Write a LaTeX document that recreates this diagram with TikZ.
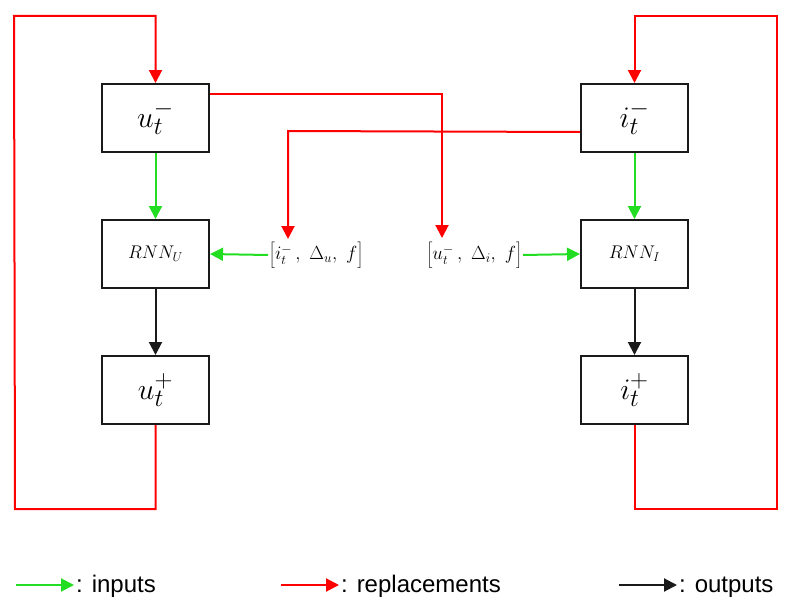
\documentclass[tikz,border=0pt]{standalone}
\usepackage{graphicx}
\usepackage{fontspec}
\newfontfamily\legfont{Liberation Sans}
\usetikzlibrary{arrows.meta}
\definecolor{cgreen}{RGB}{34,221,34}
\definecolor{cred}{RGB}{255,0,0}
\definecolor{cblack}{RGB}{26,26,26}
\newcommand{\boxmathA}[1]{\scalebox{1.2}{$#1$}}
\newcommand{\boxmathR}[1]{\scalebox{1.06}{$#1$}}
\newcommand{\boxmathL}[1]{\scalebox{1.1}{$#1$}}
\newcommand{\brkstrut}{\rule[-8pt]{0pt}{25pt}}
\tikzset{
  blk/.style={draw=cblack, line width=2pt, minimum width=107pt, minimum height=68pt, inner sep=0pt},
  conn/.style={line width=2pt, -{Triangle[length=13pt,width=13pt]}},
  gconn/.style={conn, color=cgreen},
  rconn/.style={conn, color=cred},
  kconn/.style={conn, color=cblack},
  bigmath/.style={font=\fontsize{24.88}{30}\selectfont},
  rnnmath/.style={font=\fontsize{17.28}{20}\selectfont},
  lblmath/.style={font=\fontsize{17.28}{20}\selectfont, inner sep=1pt},
  legtxt/.style={font=\legfont\fontsize{24}{28}\selectfont, anchor=base west, inner sep=0pt}
}
\begin{document}
\begin{tikzpicture}[x=1pt,y=-1pt]
\useasboundingbox (0,0) rectangle (797,610);
% boxes
\node[blk, bigmath] (um) at (155.5,118) {\boxmathA{u_t^-}};
\node[blk, rnnmath] (rnnu) at (155.5,254) {\boxmathR{RNN_U}};
\node[blk, bigmath] (up) at (155.5,390) {\boxmathA{u_t^+}};
\node[blk, bigmath] (im) at (634.5,118) {\boxmathA{i_t^-}};
\node[blk, rnnmath] (rnni) at (634.5,254) {\boxmathR{RNN_I}};
\node[blk, bigmath] (ip) at (634.5,390) {\boxmathA{i_t^+}};
% labels
\node[lblmath, anchor=west] (lu) at (268,255) {\boxmathL{\left[\brkstrut i_t^-\,,\ \Delta_u,\ f\right]}};
\node[lblmath, anchor=east] (li) at (523,255) {\boxmathL{\left[\brkstrut u_t^-\,,\ \Delta_i,\ f\right]}};
% green inputs
\draw[gconn] (um) -- (rnnu);
\draw[gconn] (im) -- (rnni);
\draw[gconn] (lu.west) -- (rnnu.east);
\draw[gconn] (li.east) -- (rnni.west);
% black outputs
\draw[kconn] (rnnu) -- (up);
\draw[kconn] (rnni) -- (ip);
% red loops
\draw[rconn] (up.south) -- (155.5,509) -- (15,509) -- (14,16) -- (155.5,16) -- (um.north);
\draw[rconn] (ip.south) -- (634.5,509) -- (777,509) -- (777,16) -- (634.5,16) -- (im.north);
% red cross replacements
\coordinate (ua) at (um.east |- 0,94);
\coordinate (ia) at (im.west |- 0,132);
\draw[rconn] (ua) -- (442,94) -- (442,238);
\draw[rconn] (ia) -- (288,131) -- (288,239);
% legend
\coordinate (g1) at (16,585); \coordinate (g2) at (74,585);
\coordinate (r1) at (281,585); \coordinate (r2) at (339,585);
\coordinate (k1) at (619,585); \coordinate (k2) at (677,585);
\draw[gconn] (g1) -- (g2);
\draw[rconn] (r1) -- (r2);
\draw[kconn] (k1) -- (k2);
\node[legtxt] (tg) at (76,592) {: inputs};
\node[legtxt] (tr) at (341,592) {: replacements};
\node[legtxt] (tk) at (679,592) {: outputs};
\end{tikzpicture}
\end{document}
